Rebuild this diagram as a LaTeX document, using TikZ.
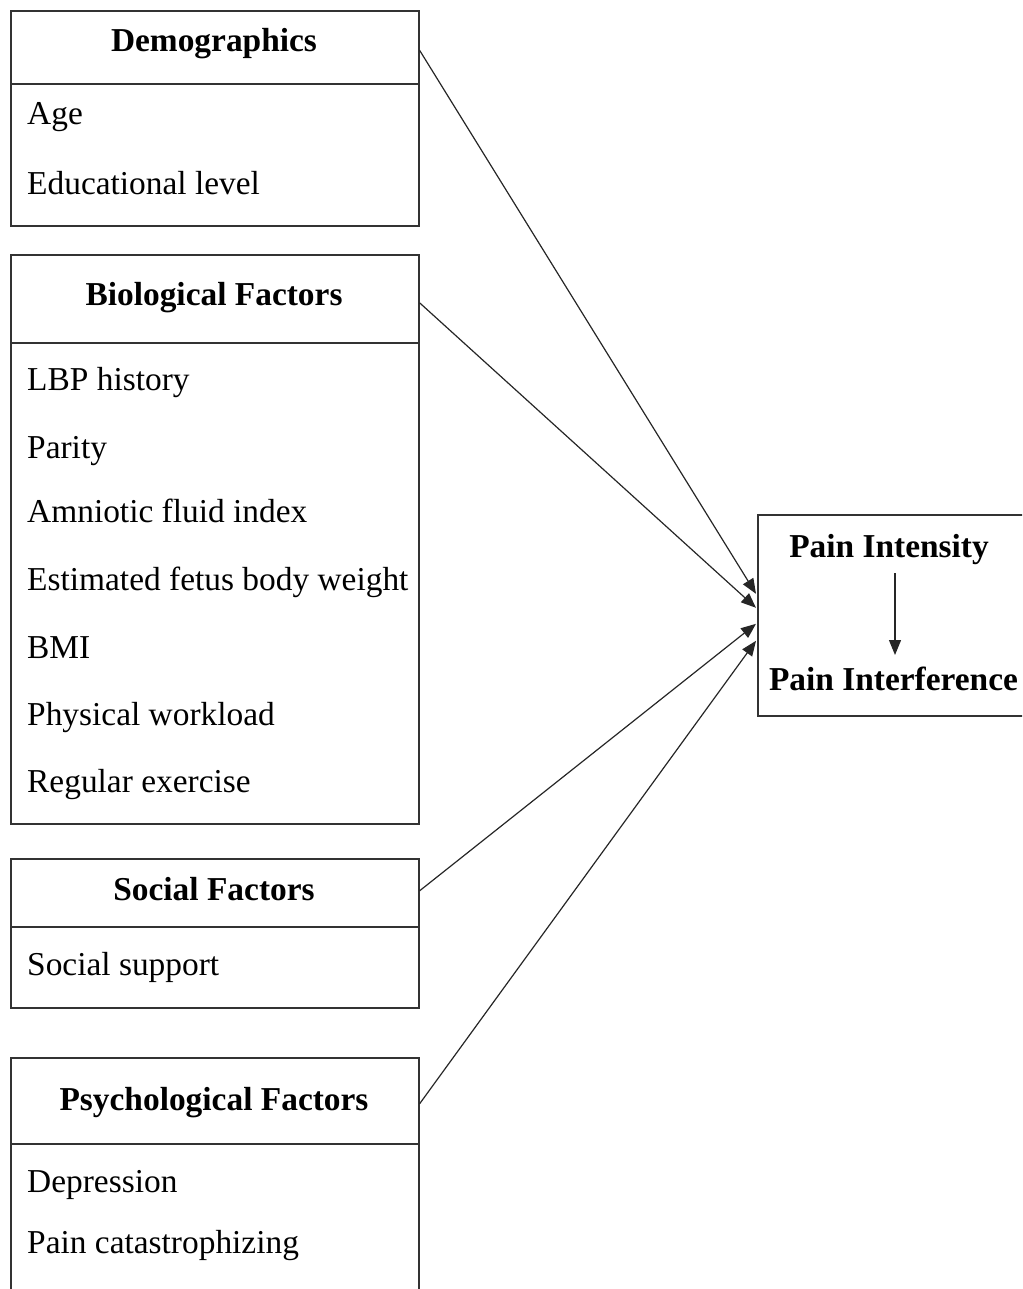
\documentclass[tikz,border=0pt]{standalone}
\usepackage{fontspec}
\setmainfont{Liberation Serif}
\usetikzlibrary{arrows.meta,calc}
\tikzset{
  box/.style={draw=black!80, line width=1.6pt, rectangle, inner sep=0pt, anchor=north west, minimum width=408pt},
  hdr/.style={font=\fontsize{33.4}{40}\selectfont\bfseries, inner sep=0pt, anchor=base},
  item/.style={font=\fontsize{33.4}{40}\selectfont, inner sep=0pt, anchor=base west},
  conn/.style={draw=black!85, line width=1.2pt, -{Triangle[length=15pt,width=12pt]}},
}
\begin{document}
\begin{tikzpicture}[x=1pt,y=-1pt]
\useasboundingbox (0,0) rectangle (1022,1289);
\clip (0,0) rectangle (1022,1289);
% Demographics
\node[box, minimum height=73pt] (demoh) at (10,10) {};
\node[box, minimum height=142pt] (demob) at (10,83) {};
\node[hdr] (demot) at (214,52) {Demographics};
\node[item] (age) at (27,125) {Age};
\node[item] (edu) at (27,195) {Educational level};
% Biological
\node[box, minimum height=88pt] (bioh) at (10,254) {};
\node[box, minimum height=481pt] (biob) at (10,342) {};
\node[hdr] (biot) at (214,305) {Biological Factors};
\node[item] (lbp) at (27,390) {LBP history};
\node[item] (par) at (27,458) {Parity};
\node[item] (amn) at (27,522) {Amniotic fluid index};
\node[item] (est) at (27,590) {Estimated fetus body weight};
\node[item] (bmi) at (27,658) {BMI};
\node[item] (phy) at (27,725) {Physical workload};
\node[item] (reg) at (27,792) {Regular exercise};
% Social
\node[box, minimum height=68pt] (soch) at (10,858) {};
\node[box, minimum height=81pt] (socb) at (10,926) {};
\node[hdr] (soct) at (214,900) {Social Factors};
\node[item] (sup) at (27,975) {Social support};
% Psychological
\node[box, minimum height=86pt] (psyh) at (10,1057) {};
\node[box, minimum height=200pt] (psyb) at (10,1143) {};
\node[hdr] (psyt) at (214,1110) {Psychological Factors};
\node[item] (dep) at (27,1192) {Depression};
\node[item] (cat) at (27,1253) {Pain catastrophizing};
% Outcome box
\node[box, minimum width=300pt, minimum height=201pt] (pain) at (757,514) {};
\node[hdr] (pi) at (889,557) {Pain Intensity};
\node[hdr] (pf) at (893.5,690) {Pain Interference};
\coordinate (a1) at (895,573);
\coordinate (a2) at (895,655);
\draw[conn] (a1) -- (a2);
% connectors
\coordinate (t1) at ($(pain.west)+(-1,-21.5)$);
\coordinate (t2) at ($(pain.west)+(-1,-7.5)$);
\coordinate (t3) at ($(pain.west)+(-1,8.5)$);
\coordinate (t4) at ($(pain.west)+(-1,25.5)$);
\draw[conn] ($(demoh.east)+(0,3)$) -- (t1);
\draw[conn] ($(bioh.east)+(0,4)$) -- (t2);
\draw[conn] ($(soch.east)+(0,-2)$) -- (t3);
\draw[conn] ($(psyh.east)+(0,3)$) -- (t4);
\end{tikzpicture}
\end{document}
